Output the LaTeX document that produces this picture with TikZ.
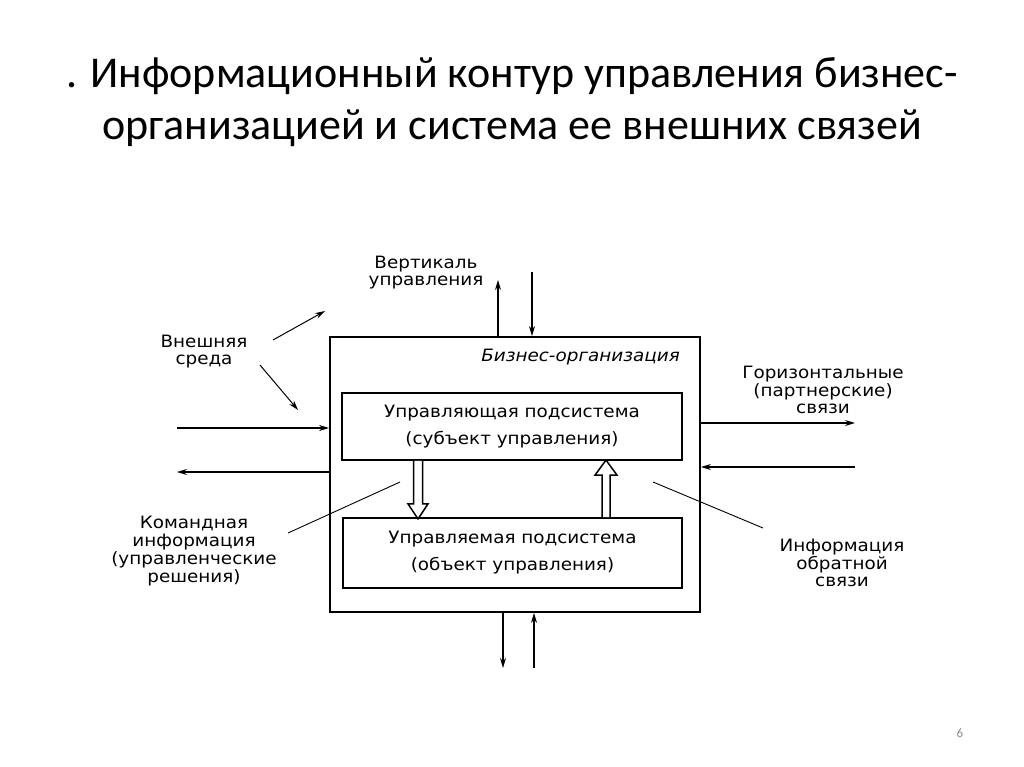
\documentclass[tikz,border=0pt]{standalone}
\usepackage{fontspec}
\setmainfont{Carlito}
\newfontfamily\diag[FakeStretch=1.08]{DejaVu Sans}
\usetikzlibrary{arrows.meta,calc}
\begin{document}
\begin{tikzpicture}[x=1pt,y=-1pt,
  titlestyle/.style={font=\fontsize{44}{50}\selectfont, inner sep=0, anchor=base},
  lbl/.style={font=\diag\fontsize{17}{17.5}\selectfont, align=center, inner sep=0},
  boxtext/.style={font=\diag\fontsize{17}{27}\selectfont, align=center},
  frame/.style={draw, line width=1.8pt, inner sep=0},
  arr/.style={line width=1.3pt, -{Stealth[length=10pt,width=6pt]}},
  thinline/.style={line width=0.9pt},
  hollow/.style={draw, line width=1.5pt, fill=white, line join=miter}
]
\useasboundingbox (0,0) rectangle (1024,767);

% title
\node[titlestyle] (t1) at (512,88) {. Информационный контур управления бизнес-};
\node[titlestyle] (t2) at (512,140) {организацией и система ее внешних связей};

% boxes
\node[frame, minimum width=370pt, minimum height=275pt] (outer) at (515,474.5) {};
\node[font=\diag\itshape\fontsize{17}{18}\selectfont, inner sep=0, anchor=east] (biz) at (680,357) {Бизнес-организация};
\node[frame, boxtext, minimum width=340pt, minimum height=67pt] (ctrl) at (512,426.5) {Управляющая подсистема\\(субъект управления)};
\node[frame, boxtext, minimum width=339pt, minimum height=70pt] (obj) at (512.5,553) {Управляемая подсистема\\(объект управления)};

% hollow arrows between subsystems
\draw[hollow] ([xshift=-98.5pt]ctrl.south) -- ++(0,43) -- ++(-5.5,0) -- ++(10,15) -- ++(10,-15) -- ++(-5.5,0) -- ++(0,-43);
\draw[hollow] ([xshift=89.5pt]obj.north) -- ++(0,-42) -- ++(-7,0) -- ++(11,-15) -- ++(11,15) -- ++(-7,0) -- ++(0,42);

% labels
\node[lbl] (vert) at (426,272.5) {Вертикаль\\управления};
\node[lbl] (env) at (204,351.5) {Внешняя\\среда};
\node[lbl, font=\diag\fontsize{17}{18}\selectfont] (cmd) at (194,551) {Командная\\информация\\(управленческие\\решения)};
\node[lbl] (horiz) at (823,390) {Горизонтальные\\(партнерские)\\связи};
\node[lbl] (fb) at (842,563) {Информация\\обратной\\связи};
\node[font=\fontsize{13}{15}\selectfont, text=black!45, inner sep=0] (pg) at (960,733) {6};

% free ends
\coordinate (vup) at (498,280);
\coordinate (vdn) at (532,272);
\coordinate (bdn) at (503,668);
\coordinate (bup) at (534,668);
\coordinate (lin) at (177,428);
\coordinate (lout) at (177,472);
\coordinate (rout) at (855,423);
\coordinate (rin) at (855,467);
\coordinate (e1s) at (273,340);
\coordinate (e1e) at (325,311);
\coordinate (e2s) at (260,365);
\coordinate (e2e) at (298,410);
\coordinate (c1s) at (288,533);
\coordinate (c1e) at (400,482);
\coordinate (f1s) at (653,482);
\coordinate (f1e) at (763,528);

% vertical arrows
\draw[arr] (outer.north -| vup) -- (vup);
\draw[arr] (vdn) -- (outer.north -| vdn);
\draw[arr] (outer.south -| bdn) -- (bdn);
\draw[arr] (bup) -- (outer.south -| bup);

% horizontal arrows
\draw[arr] (lin) -- (outer.west |- lin);
\draw[arr] (outer.west |- lout) -- (lout);
\draw[arr] (outer.east |- rout) -- (rout);
\draw[arr] (rin) -- (outer.east |- rin);

% environment arrows
\draw[arr, line width=1pt] (e1s) -- (e1e);
\draw[arr, line width=1pt] (e2s) -- (e2e);

% pointer lines
\draw[thinline] (c1s) -- (c1e);
\draw[thinline] (f1s) -- (f1e);
\end{tikzpicture}
\end{document}
